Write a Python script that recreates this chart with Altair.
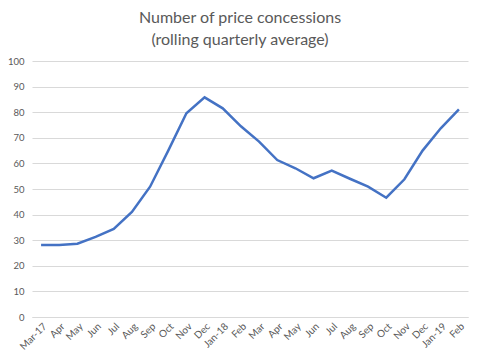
import altair as alt
import pandas as pd

labels = ["Mar-17", "Apr", "May", "Jun", "Jul", "Aug", "Sep", "Oct", "Nov", "Dec",
          "Jan-18", "Feb", "Mar", "Apr", "May", "Jun", "Jul", "Aug", "Sep", "Oct",
          "Nov", "Dec", "Jan-19", "Feb"]
values = [28.1, 28.1, 28.6, 31.3, 34.4, 41.0, 50.9, 65.0, 79.6, 85.8,
          81.5, 74.5, 68.5, 61.3, 58.1, 54.2, 57.2, 54.0, 50.9, 46.6,
          53.8, 65.0, 73.7, 81.1]
y_ticks = [0, 10, 20, 30, 40, 50, 60, 70, 80, 90, 100]

df = pd.DataFrame({"idx": list(range(len(labels))), "label": labels, "value": values})
label_map = "{" + ",".join(f"'{i}':'{l}'" for i, l in enumerate(labels)) + "}"

font = "Lato"
chart = alt.Chart(df).mark_line(color="#4472C4", strokeWidth=2.5).encode(
    x=alt.X("idx:O", title=None,
            axis=alt.Axis(labelExpr=f"{label_map}[datum.value]", labelAngle=-45,
                          labelAlign="right", labelBaseline="top", ticks=False,
                          domainColor="#d9d9d9", labelColor="#595959",
                          labelFontSize=10, labelFont=font, labelPadding=4)),
    y=alt.Y("value:Q", title=None, scale=alt.Scale(domain=[0, 100]),
            axis=alt.Axis(values=y_ticks, domain=False, ticks=False, gridColor="#d9d9d9",
                          labelColor="#595959", labelFontSize=9.5, labelFont=font,
                          labelPadding=8)),
).properties(
    width=436, height=256,
    autosize=alt.AutoSizeParams(type="none"),
    padding={"left": 24, "top": 53, "right": 4, "bottom": 40},
    title=alt.TitleParams(["Number of price concessions", "(rolling quarterly average)"],
                          font=font, fontSize=16, fontWeight="normal", color="#595959",
                          anchor="middle", offset=8, dx=-10, lineHeight=22),
).configure_view(stroke=None).configure_scale(bandPaddingInner=0, bandPaddingOuter=0)

chart.save("out.html", embed_options={"renderer": "svg", "actions": False})
